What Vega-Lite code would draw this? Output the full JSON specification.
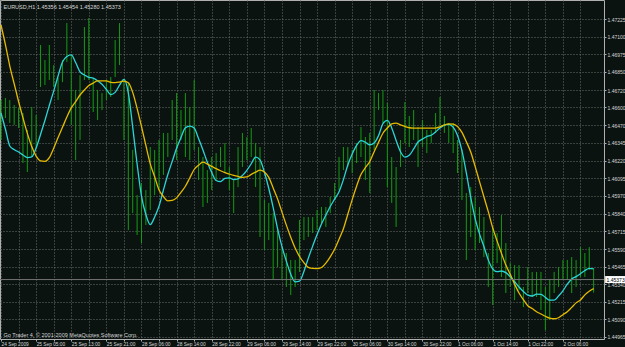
{
"$schema": "https://vega.github.io/schema/vega-lite/v6.json",
"width": 604, "height": 339,
"autosize": {"type": "none"},
"padding": {"left": 0, "top": 0, "right": 21, "bottom": 8},
"background": "#0b1310",
"config": {
  "view": {"stroke": "#b0b0b0", "strokeWidth": 1},
  "font": "Liberation Sans",
  "axis": {"domain": false, "gridColor": "#6a6e6c", "gridDash": [1, 2], "gridWidth": 1, "tickColor": "#b0b0b0", "labelColor": "#d4d4d4", "labelFont": "Liberation Sans", "titleFont": "Liberation Sans"}
},
"data": {"values": [
{"i":0,"h":1.46650,"l":1.46366,"f":1.46558,"s":1.47184},
{"i":1,"h":1.46665,"l":1.46522,"f":1.46444,"s":1.47045},
{"i":2,"h":1.46650,"l":1.46487,"f":1.46323,"s":1.46892},
{"i":3,"h":1.46615,"l":1.46473,"f":1.46298,"s":1.46766},
{"i":4,"h":1.46594,"l":1.46451,"f":1.46280,"s":1.46640},
{"i":5,"h":1.46558,"l":1.46202,"f":1.46259,"s":1.46524},
{"i":6,"h":1.46437,"l":1.46138,"f":1.46241,"s":1.46413},
{"i":7,"h":1.46601,"l":1.46245,"f":1.46245,"s":1.46319},
{"i":8,"h":1.46544,"l":1.46309,"f":1.46309,"s":1.46251},
{"i":9,"h":1.47042,"l":1.46743,"f":1.46405,"s":1.46217},
{"i":10,"h":1.46935,"l":1.46757,"f":1.46505,"s":1.46214},
{"i":11,"h":1.47042,"l":1.46793,"f":1.46611,"s":1.46240},
{"i":12,"h":1.46899,"l":1.46743,"f":1.46714,"s":1.46308},
{"i":13,"h":1.46807,"l":1.46650,"f":1.46821,"s":1.46383},
{"i":14,"h":1.46935,"l":1.46778,"f":1.46921,"s":1.46456},
{"i":15,"h":1.47198,"l":1.46921,"f":1.46960,"s":1.46529},
{"i":16,"h":1.46971,"l":1.46473,"f":1.46971,"s":1.46594},
{"i":17,"h":1.46722,"l":1.46223,"f":1.46917,"s":1.46639},
{"i":18,"h":1.46828,"l":1.46366,"f":1.46850,"s":1.46686},
{"i":19,"h":1.47170,"l":1.46793,"f":1.46828,"s":1.46722},
{"i":20,"h":1.47234,"l":1.46793,"f":1.46812,"s":1.46753},
{"i":21,"h":1.46807,"l":1.46565,"f":1.46806,"s":1.46771},
{"i":22,"h":1.46722,"l":1.46508,"f":1.46788,"s":1.46786},
{"i":23,"h":1.46700,"l":1.46579,"f":1.46762,"s":1.46786},
{"i":24,"h":1.46793,"l":1.46650,"f":1.46726,"s":1.46786},
{"i":25,"h":1.46814,"l":1.46672,"f":1.46689,"s":1.46776},
{"i":26,"h":1.47077,"l":1.46814,"f":1.46705,"s":1.46774},
{"i":27,"h":1.47198,"l":1.46899,"f":1.46757,"s":1.46778},
{"i":28,"h":1.46793,"l":1.46366,"f":1.46797,"s":1.46785},
{"i":29,"h":1.46771,"l":1.45725,"f":1.46702,"s":1.46773},
{"i":30,"h":1.46295,"l":1.45846,"f":1.46458,"s":1.46705},
{"i":31,"h":1.45974,"l":1.45690,"f":1.46195,"s":1.46591},
{"i":32,"h":1.46060,"l":1.45633,"f":1.45967,"s":1.46462},
{"i":33,"h":1.46010,"l":1.45761,"f":1.45836,"s":1.46327},
{"i":34,"h":1.46316,"l":1.45868,"f":1.45764,"s":1.46196},
{"i":35,"h":1.46295,"l":1.45974,"f":1.45818,"s":1.46104},
{"i":36,"h":1.46366,"l":1.46010,"f":1.45896,"s":1.46010},
{"i":37,"h":1.46416,"l":1.46117,"f":1.46010,"s":1.45964},
{"i":38,"h":1.46416,"l":1.46245,"f":1.46120,"s":1.45933},
{"i":39,"h":1.46650,"l":1.46366,"f":1.46214,"s":1.45936},
{"i":40,"h":1.46700,"l":1.46223,"f":1.46307,"s":1.45954},
{"i":41,"h":1.46579,"l":1.46366,"f":1.46384,"s":1.45994},
{"i":42,"h":1.46700,"l":1.46245,"f":1.46453,"s":1.46037},
{"i":43,"h":1.46601,"l":1.46223,"f":1.46465,"s":1.46096},
{"i":44,"h":1.46793,"l":1.46295,"f":1.46452,"s":1.46156},
{"i":45,"h":1.46316,"l":1.46081,"f":1.46376,"s":1.46186},
{"i":46,"h":1.46245,"l":1.45889,"f":1.46295,"s":1.46209},
{"i":47,"h":1.46152,"l":1.45918,"f":1.46207,"s":1.46194},
{"i":48,"h":1.46245,"l":1.46010,"f":1.46135,"s":1.46178},
{"i":49,"h":1.46273,"l":1.46081,"f":1.46078,"s":1.46162},
{"i":50,"h":1.46316,"l":1.46174,"f":1.46070,"s":1.46147},
{"i":51,"h":1.46344,"l":1.46131,"f":1.46092,"s":1.46134},
{"i":52,"h":1.46174,"l":1.46010,"f":1.46096,"s":1.46124},
{"i":53,"h":1.46081,"l":1.45846,"f":1.46085,"s":1.46115},
{"i":54,"h":1.46316,"l":1.46031,"f":1.46090,"s":1.46107},
{"i":55,"h":1.46416,"l":1.46174,"f":1.46114,"s":1.46100},
{"i":56,"h":1.46387,"l":1.46223,"f":1.46150,"s":1.46103},
{"i":57,"h":1.46451,"l":1.46245,"f":1.46197,"s":1.46121},
{"i":58,"h":1.46344,"l":1.46031,"f":1.46244,"s":1.46137},
{"i":59,"h":1.46316,"l":1.45676,"f":1.46225,"s":1.46152},
{"i":60,"h":1.45939,"l":1.45583,"f":1.46136,"s":1.46139},
{"i":61,"h":1.45918,"l":1.45654,"f":1.46021,"s":1.46100},
{"i":62,"h":1.45846,"l":1.45370,"f":1.45885,"s":1.46025},
{"i":63,"h":1.45747,"l":1.45462,"f":1.45735,"s":1.45947},
{"i":64,"h":1.45604,"l":1.45370,"f":1.45607,"s":1.45853},
{"i":65,"h":1.45562,"l":1.45320,"f":1.45504,"s":1.45760},
{"i":66,"h":1.45512,"l":1.45263,"f":1.45411,"s":1.45674},
{"i":67,"h":1.45512,"l":1.45320,"f":1.45357,"s":1.45597},
{"i":68,"h":1.45797,"l":1.45427,"f":1.45361,"s":1.45537},
{"i":69,"h":1.45818,"l":1.45654,"f":1.45431,"s":1.45493},
{"i":70,"h":1.45818,"l":1.45676,"f":1.45525,"s":1.45460},
{"i":71,"h":1.45818,"l":1.45704,"f":1.45611,"s":1.45452},
{"i":72,"h":1.45868,"l":1.45725,"f":1.45693,"s":1.45451},
{"i":73,"h":1.45889,"l":1.45775,"f":1.45768,"s":1.45459},
{"i":74,"h":1.45889,"l":1.45747,"f":1.45831,"s":1.45490},
{"i":75,"h":1.45960,"l":1.45846,"f":1.45893,"s":1.45535},
{"i":76,"h":1.46060,"l":1.45939,"f":1.45945,"s":1.45588},
{"i":77,"h":1.46245,"l":1.46010,"f":1.45998,"s":1.45660},
{"i":78,"h":1.46316,"l":1.46152,"f":1.46084,"s":1.45735},
{"i":79,"h":1.46316,"l":1.46174,"f":1.46188,"s":1.45838},
{"i":80,"h":1.46295,"l":1.46131,"f":1.46266,"s":1.45942},
{"i":81,"h":1.46344,"l":1.46202,"f":1.46327,"s":1.46037},
{"i":82,"h":1.46458,"l":1.46245,"f":1.46361,"s":1.46120},
{"i":83,"h":1.46387,"l":1.46081,"f":1.46350,"s":1.46169},
{"i":84,"h":1.46416,"l":1.45989,"f":1.46332,"s":1.46212},
{"i":85,"h":1.46722,"l":1.46295,"f":1.46345,"s":1.46283},
{"i":86,"h":1.46700,"l":1.46579,"f":1.46397,"s":1.46349},
{"i":87,"h":1.46722,"l":1.46487,"f":1.46482,"s":1.46414},
{"i":88,"h":1.46629,"l":1.46031,"f":1.46506,"s":1.46451},
{"i":89,"h":1.46245,"l":1.45918,"f":1.46452,"s":1.46481},
{"i":90,"h":1.46174,"l":1.45747,"f":1.46363,"s":1.46486},
{"i":91,"h":1.46366,"l":1.46174,"f":1.46282,"s":1.46473},
{"i":92,"h":1.46636,"l":1.46344,"f":1.46244,"s":1.46462},
{"i":93,"h":1.46537,"l":1.46316,"f":1.46257,"s":1.46453},
{"i":94,"h":1.46579,"l":1.46366,"f":1.46302,"s":1.46451},
{"i":95,"h":1.46458,"l":1.46174,"f":1.46352,"s":1.46451},
{"i":96,"h":1.46508,"l":1.46316,"f":1.46372,"s":1.46451},
{"i":97,"h":1.46437,"l":1.46273,"f":1.46391,"s":1.46451},
{"i":98,"h":1.46437,"l":1.46344,"f":1.46400,"s":1.46451},
{"i":99,"h":1.46558,"l":1.46416,"f":1.46423,"s":1.46451},
{"i":100,"h":1.46672,"l":1.46458,"f":1.46451,"s":1.46460},
{"i":101,"h":1.46537,"l":1.46416,"f":1.46471,"s":1.46473},
{"i":102,"h":1.46487,"l":1.46344,"f":1.46477,"s":1.46480},
{"i":103,"h":1.46487,"l":1.46273,"f":1.46457,"s":1.46479},
{"i":104,"h":1.46366,"l":1.46131,"f":1.46398,"s":1.46461},
{"i":105,"h":1.46295,"l":1.45939,"f":1.46290,"s":1.46420},
{"i":106,"h":1.45989,"l":1.45512,"f":1.46132,"s":1.46354},
{"i":107,"h":1.46031,"l":1.45676,"f":1.45957,"s":1.46280},
{"i":108,"h":1.45960,"l":1.45583,"f":1.45808,"s":1.46178},
{"i":109,"h":1.45889,"l":1.45633,"f":1.45698,"s":1.46070},
{"i":110,"h":1.45818,"l":1.45533,"f":1.45608,"s":1.45962},
{"i":111,"h":1.45562,"l":1.45320,"f":1.45513,"s":1.45856},
{"i":112,"h":1.45747,"l":1.45192,"f":1.45449,"s":1.45742},
{"i":113,"h":1.45704,"l":1.45490,"f":1.45429,"s":1.45648},
{"i":114,"h":1.45832,"l":1.45391,"f":1.45434,"s":1.45560},
{"i":115,"h":1.45633,"l":1.45277,"f":1.45422,"s":1.45476},
{"i":116,"h":1.45490,"l":1.45320,"f":1.45393,"s":1.45410},
{"i":117,"h":1.45476,"l":1.45227,"f":1.45357,"s":1.45340},
{"i":118,"h":1.45476,"l":1.45298,"f":1.45320,"s":1.45277},
{"i":119,"h":1.45320,"l":1.45177,"f":1.45288,"s":1.45230},
{"i":120,"h":1.45462,"l":1.45277,"f":1.45262,"s":1.45187},
{"i":121,"h":1.45427,"l":1.45249,"f":1.45256,"s":1.45167},
{"i":122,"h":1.45427,"l":1.45249,"f":1.45269,"s":1.45144},
{"i":123,"h":1.45427,"l":1.45156,"f":1.45268,"s":1.45128},
{"i":124,"h":1.45320,"l":1.45014,"f":1.45246,"s":1.45112},
{"i":125,"h":1.45370,"l":1.45085,"f":1.45226,"s":1.45098},
{"i":126,"h":1.45427,"l":1.45277,"f":1.45226,"s":1.45094},
{"i":127,"h":1.45462,"l":1.45320,"f":1.45256,"s":1.45101},
{"i":128,"h":1.45512,"l":1.45370,"f":1.45293,"s":1.45123},
{"i":129,"h":1.45512,"l":1.45370,"f":1.45340,"s":1.45144},
{"i":130,"h":1.45533,"l":1.45277,"f":1.45377,"s":1.45175},
{"i":131,"h":1.45512,"l":1.45320,"f":1.45394,"s":1.45207},
{"i":132,"h":1.45604,"l":1.45391,"f":1.45414,"s":1.45228},
{"i":133,"h":1.45562,"l":1.45391,"f":1.45437,"s":1.45264},
{"i":134,"h":1.45604,"l":1.45441,"f":1.45453,"s":1.45290},
{"i":135,"h":1.45454,"l":1.45280,"f":1.45449,"s":1.45308}
]},
"layer": [
  {"mark": {"type": "rule", "color": "#149a14", "strokeWidth": 1},
   "encoding": {
     "x": {"field": "i", "type": "quantitative",
       "scale": {"domain": [-0.23, 137.36], "nice": false, "zero": false},
       "axis": {"values": [0,4,8,12,16,20,24,28,32,36,40,44,48,52,56,60,64,68,72,76,80,84,88,92,96,100,104,108,112,116,120,124,128,132], "tickCount": 500,
         "labelExpr": "datum.value % 8 == 0 ? ['24 Sep 2009','25 Sep 05:00','25 Sep 13:00','25 Sep 21:00','28 Sep 06:00','28 Sep 14:00','28 Sep 22:00','29 Sep 06:00','29 Sep 14:00','29 Sep 22:00','30 Sep 06:00','30 Sep 14:00','30 Sep 22:00','1 Oct 06:00','1 Oct 14:00','1 Oct 22:00','2 Oct 06:00'][datum.value / 8] : ''",
         "labelAlign": "left", "labelBaseline": "top", "labelPadding": 0, "labelFontSize": 4.8, "labelOverlap": false, "labelBound": false, "labelFlush": false,
         "tickSize": 2, "grid": true,
         "title": "Go Trader 4, © 2001-2009 MetaQuotes Software Corp.", "titleAnchor": "start", "titleAlign": "left", "titleBaseline": "alphabetic", "titleX": 3, "titleY": -3, "titleFontSize": 5.5, "titleFontWeight": "normal", "titleColor": "#d4d4d4"}},
     "y": {"field": "h", "type": "quantitative",
       "scale": {"domain": [1.4495, 1.47362], "nice": false, "zero": false},
       "axis": {"orient": "right", "tickCount": 500, "values": [1.47225,1.471,1.46975,1.4685,1.4672,1.466,1.4647,1.46345,1.4622,1.46095,1.4597,1.4584,1.45715,1.4559,1.45465,1.4534,1.45215,1.4509,1.44965],
         "format": ".5f", "labelAlign": "left", "labelBaseline": "middle", "labelPadding": 1, "labelFontSize": 5, "tickSize": 2, "grid": true, "labelOverlap": false, "labelBound": false, "labelFlush": false,
         "title": "EURUSD,H1  1.45356 1.45454 1.45280 1.45373", "titleAngle": 0, "titleAnchor": null, "titleAlign": "left", "titleBaseline": "alphabetic", "titleX": -601, "titleY": 8, "titleFontSize": 5.5, "titleFontWeight": "normal", "titleColor": "#d8d8d8"}},
     "y2": {"field": "l"}
   }},
  {"mark": {"type": "line", "color": "#2ad6d6", "strokeWidth": 1.3, "interpolate": "monotone"},
   "encoding": {"x": {"field": "i", "type": "quantitative"}, "y": {"field": "f", "type": "quantitative"}}},
  {"mark": {"type": "line", "color": "#e6bb00", "strokeWidth": 1.3, "interpolate": "monotone"},
   "encoding": {"x": {"field": "i", "type": "quantitative"}, "y": {"field": "s", "type": "quantitative"}}},
  {"data": {"values": [{"price": 1.45373, "label": "1.45373"}]},
   "mark": {"type": "rule", "color": "#747474", "strokeWidth": 1},
   "encoding": {"y": {"field": "price", "type": "quantitative"}}},
  {"data": {"values": [{"price": 1.45373, "label": "1.45373"}]},
   "mark": {"type": "tick", "orient": "horizontal", "color": "#ffffff", "size": 20, "thickness": 7, "opacity": 1},
   "encoding": {"x": {"datum": 139.9}, "y": {"field": "price", "type": "quantitative"}}},
  {"data": {"values": [{"price": 1.45373, "label": "1.45373"}]},
   "mark": {"type": "text", "align": "left", "baseline": "middle", "color": "#000000", "fontSize": 5},
   "encoding": {"x": {"datum": 137.95}, "y": {"field": "price", "type": "quantitative"}, "text": {"field": "label"}}}
]
}
